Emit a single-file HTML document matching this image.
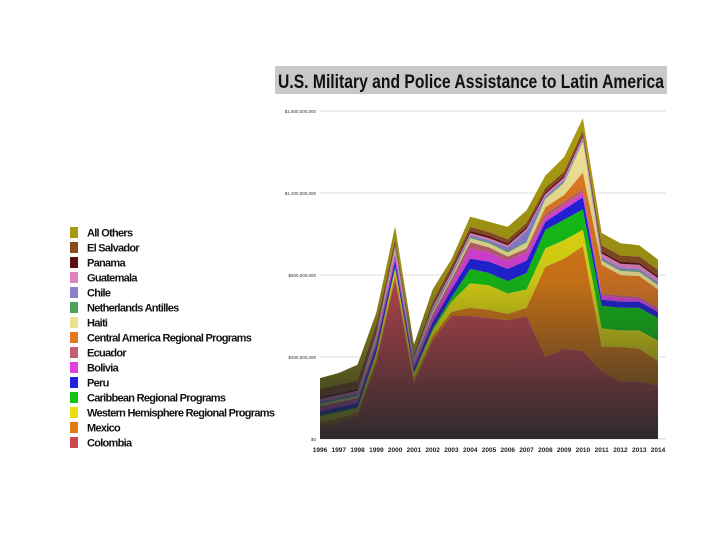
<!DOCTYPE html>
<html><head><meta charset="utf-8"><style>
body{margin:0;background:#fff;width:720px;height:540px;overflow:hidden}
svg{display:block;font-family:"Liberation Sans",sans-serif}
</style></head><body>
<svg id="chart" width="720" height="540" viewBox="0 0 720 540">
<defs>
<linearGradient id="shade" gradientUnits="userSpaceOnUse" x1="0" y1="150" x2="0" y2="440">
<stop offset="0" stop-color="#1c2628" stop-opacity="0"/>
<stop offset="0.45" stop-color="#1c2628" stop-opacity="0.15"/>
<stop offset="1" stop-color="#1c2628" stop-opacity="0.9"/>
</linearGradient>
</defs>
<rect x="275" y="66" width="392" height="28" fill="#c9c9c9"/>
<text x="278" y="88" font-size="19" font-weight="bold" textLength="386" lengthAdjust="spacingAndGlyphs" fill="#111">U.S. Military and Police Assistance to Latin America</text>
<g id="grid"></g><g id="areas"></g><g id="axes"></g><g id="legend"></g>
</svg>
<script>
const years=[1996,1997,1998,1999,2000,2001,2002,2003,2004,2005,2006,2007,2008,2009,2010,2011,2012,2013,2014];
const seriesNames=["Colombia","Mexico","Western Hemisphere Regional Programs","Caribbean Regional Programs","Peru","Bolivia","Ecuador","Central America Regional Programs","Haiti","Netherlands Antilles","Chile","Guatemala","Panama","El Salvador","All Others"];
const seriesColors=["#c84850","#e07c14","#e8e010","#14c414","#2020e0","#e040e0","#c06070","#e07820","#ece090","#50a060","#8a80d0","#e080c0","#5a1010","#8a4a20","#a89a10"];
const colombia=[60,80,110,370,780,270,480,600,600,590,580,600,400,440,430,330,280,280,260];
const mexico=[20,20,20,20,20,20,20,20,40,40,30,40,440,440,510,120,170,160,120];
const whrp=[30,30,20,30,30,30,30,50,120,120,100,90,90,90,80,90,80,90,100];
const caribbean=[5,5,5,5,10,5,10,20,70,60,60,80,90,100,100,110,110,110,110];
const peru=[20,20,20,30,30,20,30,40,50,55,60,60,40,50,60,30,30,30,30];
const bolivia=[15,15,15,20,30,20,30,30,50,45,40,40,20,20,20,20,20,15,10];
const ecuador=[10,10,10,10,10,10,10,20,30,25,20,20,20,20,20,10,10,10,10];
const centralAmerica=[0,0,0,0,0,0,0,0,0,0,0,0,30,30,80,140,100,100,90];
const haiti=[10,10,10,10,10,5,10,10,20,20,20,30,40,60,150,20,20,20,20];
const netherlandsAntilles=[5,5,5,5,5,5,5,5,5,5,5,5,5,5,5,5,5,5,5];
const chile=[10,10,10,10,10,10,10,10,10,10,20,50,10,10,10,10,10,10,10];
const guatemala=[10,10,10,10,10,5,10,10,10,10,10,10,10,10,10,20,20,20,20];
const panama=[10,10,10,10,10,5,5,10,10,10,10,10,10,10,10,10,10,10,10];
const elSalvador=[40,40,40,30,20,10,20,20,20,20,20,20,20,20,20,30,30,30,30];
const allOthers=[52,57,77,56,63,45,60,32,50,50,60,60,60,70,60,60,60,55,50];
const yTicks=[0,400,800,1200,1600];
const yTickLabels=["$0","$400,000,000","$800,000,000","$1,200,000,000","$1,600,000,000"];
const legendOrder=[14,13,12,11,10,9,8,7,6,5,4,3,2,1,0];

const series=[colombia,mexico,whrp,caribbean,peru,bolivia,ecuador,centralAmerica,haiti,netherlandsAntilles,chile,guatemala,panama,elSalvador,allOthers];
const NS="http://www.w3.org/2000/svg";
const x0=320,x1=658,y0=439,pxPer=82/400;
const xs=i=>x0+(x1-x0)*i/(years.length-1);
const ys=v=>y0-v*pxPer;
function mk(t,a,p){const e=document.createElementNS(NS,t);for(const k in a)e.setAttribute(k,a[k]);p.appendChild(e);return e;}
const grid=document.getElementById('grid'),areas=document.getElementById('areas'),axes=document.getElementById('axes'),legend=document.getElementById('legend');
yTicks.forEach((t,i)=>{
  const l=mk('line',{x1:x0,x2:666,y1:ys(t),y2:ys(t),stroke:'#d4d4d4','stroke-width':0.8},grid);
  
  
  const tx=mk('text',{x:316,y:ys(t)+2,'font-size':4.5,'text-anchor':'end',fill:'#333'},axes);
  tx.textContent=yTickLabels[i];
  
  
});
let base=years.map(()=>0);
series.forEach((s,k)=>{
  const top=base.map((b,i)=>b+s[i]);
  let d='M'+years.map((_,i)=>xs(i)+','+ys(top[i])).join('L');
  for(let i=years.length-1;i>=0;i--)d+='L'+xs(i)+','+ys(base[i]);
  const p=mk('path',{d:d+'Z',fill:seriesColors[k]},areas);
  
  
  base=top;
});
let d='M'+years.map((_,i)=>xs(i)+','+ys(base[i])).join('L')+'L'+x1+','+y0+'L'+x0+','+y0+'Z';
const ov=mk('path',{d:d,fill:'url(#shade)'},areas);


years.forEach((y,i)=>{
  const t=mk('text',{x:xs(i),y:452,'font-size':6.5,'font-weight':'bold','text-anchor':'middle',fill:'#222'},axes);
  t.textContent=y;
  
  
});
legendOrder.forEach((k,r)=>{
  const y=227+r*15;
  const g=mk('g',{},legend);
  
  
  const sw=mk('rect',{x:70,y:y,width:8,height:11,fill:seriesColors[k]},g);
  
  
  const t=mk('text',{x:87,y:y+9.5,'font-size':11,'font-weight':'bold','letter-spacing':'-0.72',fill:'#111'},g);
  t.textContent=seriesNames[k];
  
  
});
</script>
</body></html>
